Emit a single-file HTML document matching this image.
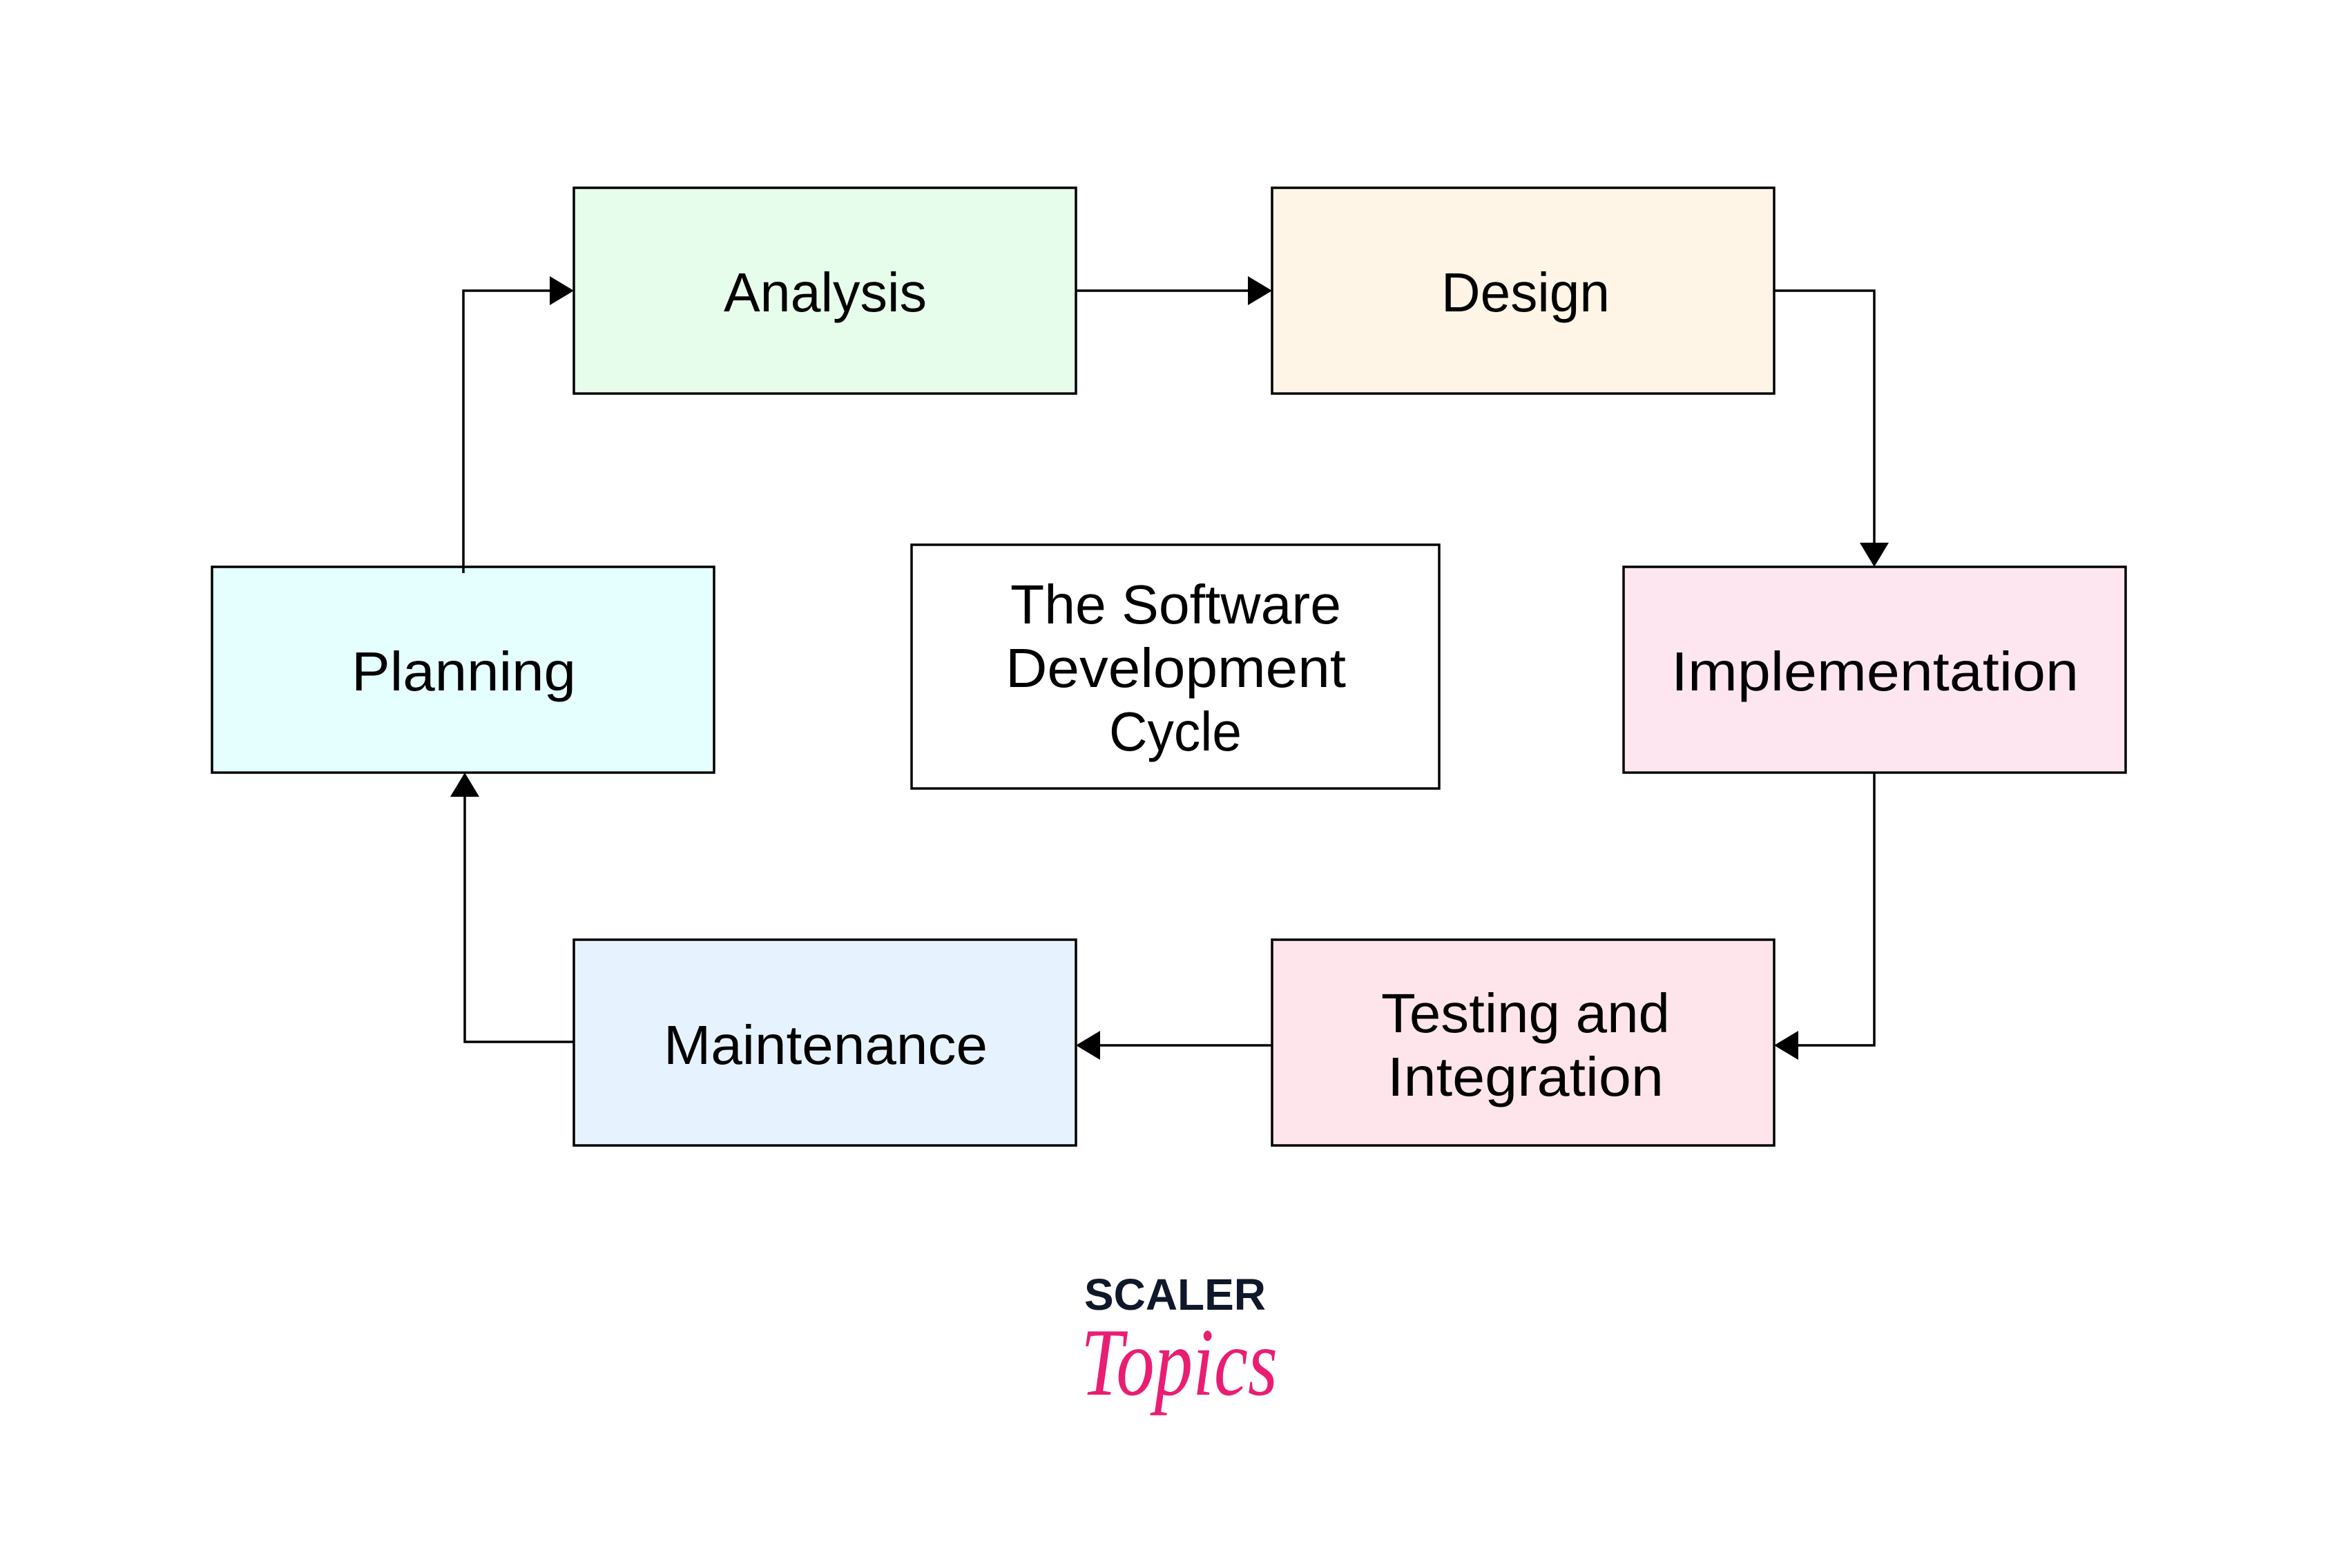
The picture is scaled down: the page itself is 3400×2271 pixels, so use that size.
<!DOCTYPE html>
<html><head><meta charset="utf-8"><style>html,body{margin:0;padding:0;background:#fff}svg{display:block}</style></head>
<body>
<svg width="3400" height="2271" viewBox="0 0 3400 2271" xmlns="http://www.w3.org/2000/svg">
<g stroke="#000" stroke-width="3.5">
<rect x="831" y="272" width="727" height="298" fill="#e6fdec"/>
<rect x="1842" y="272" width="727" height="298" fill="#fff5e6"/>
<rect x="307" y="821" width="727" height="298" fill="#e5fefe"/>
<rect x="2351" y="821" width="727" height="298" fill="#fde6f0"/>
<rect x="1320" y="789" width="764" height="353" fill="#fff"/>
<rect x="831" y="1361" width="727" height="298" fill="#e6f3fe"/>
<rect x="1842" y="1361" width="727" height="298" fill="#fee5eb"/>
</g>
<g stroke="#000" stroke-width="3.5" fill="none">
<polyline points="671,830 671,421 800,421"/>
<line x1="1558" y1="421" x2="1810" y2="421"/>
<polyline points="2569,421 2714,421 2714,790"/>
<polyline points="2714,1119 2714,1514 2600,1514"/>
<line x1="1842" y1="1514" x2="1590" y2="1514"/>
<polyline points="831,1509 673,1509 673,1152"/>
</g>
<g fill="#000">
<polygon points="831,421 796,400 796,442"/>
<polygon points="1842,421 1807,400 1807,442"/>
<polygon points="2714,821 2693,786 2735,786"/>
<polygon points="2569,1514 2604,1493 2604,1535"/>
<polygon points="1558,1514 1593,1493 1593,1535"/>
<polygon points="673,1119 652,1154 694,1154"/>
</g>
<g font-family="Liberation Sans, sans-serif" font-size="80" fill="#000">
<text x="1048" y="451" textLength="294" lengthAdjust="spacingAndGlyphs">Analysis</text>
<text x="2087" y="451" textLength="244" lengthAdjust="spacingAndGlyphs">Design</text>
<text x="509" y="1000" textLength="325" lengthAdjust="spacingAndGlyphs">Planning</text>
<text x="2420" y="1000" textLength="590" lengthAdjust="spacingAndGlyphs">Implementation</text>
<text x="1463" y="903" textLength="479" lengthAdjust="spacingAndGlyphs">The Software</text>
<text x="1456" y="995" textLength="493" lengthAdjust="spacingAndGlyphs">Development</text>
<text x="1606" y="1087" textLength="192" lengthAdjust="spacingAndGlyphs">Cycle</text>
<text x="961" y="1541" textLength="469" lengthAdjust="spacingAndGlyphs">Maintenance</text>
<text x="2000" y="1495" textLength="418" lengthAdjust="spacingAndGlyphs">Testing and</text>
<text x="2009" y="1587" textLength="400" lengthAdjust="spacingAndGlyphs">Integration</text>
</g>
<text x="1570" y="1897" font-family="Liberation Sans, sans-serif" font-weight="bold" font-size="64" fill="#0f172a" textLength="263" lengthAdjust="spacingAndGlyphs">SCALER</text>
<text x="1565" y="2020" font-family="Liberation Serif, serif" font-style="italic" font-size="140" fill="#e91e73" textLength="285" lengthAdjust="spacingAndGlyphs">Topics</text>
</svg>
</body></html>
